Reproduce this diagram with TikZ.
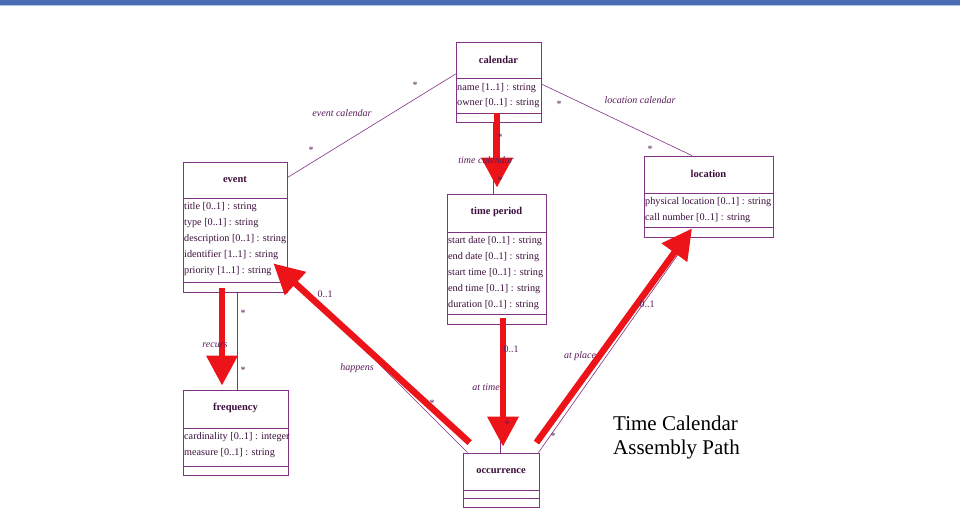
\documentclass[tikz,border=0pt]{standalone}
\usepackage{fontspec}
\setmainfont{Liberation Serif}
\usetikzlibrary{arrows.meta,fit,calc}
\definecolor{umlline}{RGB}{130,50,130}
\definecolor{umltext}{RGB}{60,15,60}
\definecolor{lbl}{RGB}{90,30,90}
\definecolor{redarr}{RGB}{236,20,24}
\definecolor{barblue}{RGB}{74,108,180}
\definecolor{barlight}{RGB}{170,195,235}
\tikzset{
  box/.style={draw=umlline, line width=0.8pt, inner sep=0pt},
  divline/.style={draw=umlline, line width=0.8pt},
  ttl/.style={font=\fontsize{10.5}{12}\selectfont\bfseries, text=umltext, inner sep=0pt},
  attr/.style={font=\fontsize{10.2}{12}\selectfont, text=umltext, anchor=west, inner sep=0pt},
  assoc/.style={draw=umlline, line width=0.6pt},
  redarrow/.style={draw=redarr, line width=6.5pt, -{Triangle[length=30pt,width=30pt]}},
  lab/.style={font=\fontsize{10}{11}\selectfont\itshape, text=lbl, inner sep=0pt},
  mult/.style={font=\fontsize{10}{12}\selectfont, text=lbl, inner sep=0pt},
  star/.style={font=\fontsize{10}{10}\selectfont, text=lbl, inner sep=0pt},
  bigtext/.style={font=\fontsize{21}{24}\selectfont, text=black, align=left, anchor=west, inner sep=0pt}
}
\newcommand\umlcls[7]{%
  \coordinate (#1nw) at (#2,#3);
  \coordinate (#1se) at (#4,#5);
  \node[box, fit=(#1nw)(#1se)] (#1) {};
  \draw[divline] (#2,#6) -- (#4,#6);
  \draw[divline] (#2,#7) -- (#4,#7);
}
\begin{document}
\begin{tikzpicture}[x=1pt,y=-1pt]
\useasboundingbox (0,0) rectangle (960,517);
\fill[white] (0,0) rectangle (960,517);
\fill[barblue] (0,0) rectangle (960,4.5);
\fill[barlight] (0,4.5) rectangle (960,6);

% classes
\umlcls{cal}{456}{42}{541}{122}{78}{113}
\node[ttl] (calT) at (498.5,60) {calendar};
\node[attr] (cal1) at (457,88) {name [1..1] : string};
\node[attr] (cal2) at (457,103) {owner [0..1] : string};

\umlcls{event}{183}{162}{287}{292}{198}{282}
\node[ttl] (eventT) at (235,180) {event};
\node[attr] (ev1) at (184,207) {title [0..1] : string};
\node[attr] (ev2) at (184,223) {type [0..1] : string};
\node[attr] (ev3) at (184,239) {description [0..1] : string};
\node[attr] (ev4) at (184,255) {identifier [1..1] : string};
\node[attr] (ev5) at (184,271) {priority [1..1] : string};

\umlcls{tp}{447}{194}{546}{324}{232}{314}
\node[ttl] (tpT) at (496.5,212) {time period};
\node[attr] (tp1) at (448,241) {start date [0..1] : string};
\node[attr] (tp2) at (448,257) {end date [0..1] : string};
\node[attr] (tp3) at (448,273) {start time [0..1] : string};
\node[attr] (tp4) at (448,289) {end time [0..1] : string};
\node[attr] (tp5) at (448,305) {duration [0..1] : string};

\umlcls{loc}{644}{156}{773}{237}{193}{227}
\node[ttl] (locT) at (708.5,174) {location};
\node[attr] (loc1) at (645,202) {physical location [0..1] : string};
\node[attr] (loc2) at (645,218) {call number [0..1] : string};

\umlcls{freq}{183}{390}{288}{475}{428}{466}
\node[ttl] (freqT) at (235.5,408) {frequency};
\node[attr] (fr1) at (184,437) {cardinality [0..1] : integer};
\node[attr] (fr2) at (184,453) {measure [0..1] : string};

\umlcls{occ}{463}{453}{539}{507}{490}{498}
\node[ttl] (occT) at (501,471) {occurrence};

% thin associations
\draw[assoc] ($(cal.west)+(0,-8)$) -- ($(event.north east)+(0,16)$);
\draw[assoc] ($(cal.east)+(0,2)$) -- ($(loc.north)+(-16.5,0)$);
\draw[assoc] ($(cal.south)+(-5.5,0)$) -- ($(tp.north)+(-3.5,0)$);
\draw[assoc] ($(event.south)+(2,0)$) -- ($(freq.north)+(1.5,0)$);
\draw[assoc] ($(tp.south)+(3.5,0)$) -- ($(occ.north)+(-1,0)$);
\draw[assoc] ($(occ.north west)+(5,0)$) -- ($(event.south east)+(0,-20)$);
\draw[assoc] ($(occ.north east)+(-1,0)$) -- ($(loc.south)+(-18.5,0)$);

% red path arrows
\draw[redarrow] ($(cal.south)+(-1.5,-9)$) -- ($(tp.north)+(0.5,-6)$);
\draw[redarrow] ($(event.south)+(-13,-4)$) -- ($(freq.north)+(-13.5,-4)$);
\draw[redarrow] ($(tp.south)+(6.5,-6)$) -- ($(occ.north)+(2,-6)$);
\draw[redarrow] ($(occ.north west)+(7,-10)$) -- ($(event.south east)+(-14,-29)$);
\draw[redarrow] ($(occ.north east)+(-3,-10)$) -- ($(loc.south)+(-16.5,-9)$);

% association labels
\node[lab] (l1) at (342,113) {event calendar};
\node[lab] (l2) at (640,100) {location calendar};
\node[lab] (l3) at (486,160) {time calendar};
\node[lab] (l4) at (215,345) {recurs};
\node[lab] (l5) at (357,368) {happens};
\node[lab] (l6) at (486,387) {at time};
\node[lab] (l7) at (580,356) {at place};

\node[mult] (m1) at (325,294) {0..1};
\node[mult] (m2) at (511,349) {0..1};
\node[mult] (m3) at (647,304) {0..1};

\node[star] (s1) at (415,85) {*};
\node[star] (s2) at (311,150) {*};
\node[star] (s3) at (559,104) {*};
\node[star] (s4) at (650,149) {*};
\node[star] (s5) at (500,137) {*};
\node[star] (s6) at (500,180) {*};
\node[star] (s7) at (243,313) {*};
\node[star] (s8) at (243,370) {*};
\node[star] (s9) at (432,403) {*};
\node[star] (s10) at (507,424) {*};
\node[star] (s11) at (553,436) {*};

\node[bigtext] (note) at (613,437) {Time Calendar\\Assembly Path};
\end{tikzpicture}
\end{document}
